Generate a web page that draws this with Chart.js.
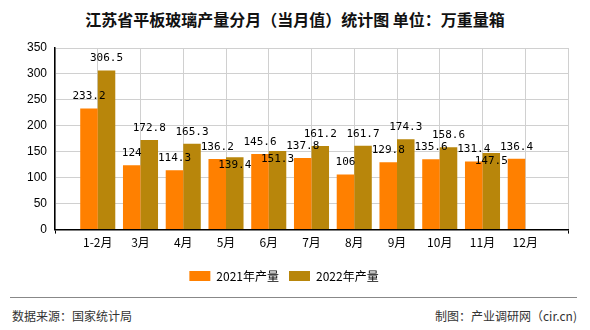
<!DOCTYPE html>
<html>
<head>
<meta charset="utf-8">
<script src="https://cdn.jsdelivr.net/npm/chart.js@4/dist/chart.umd.min.js"></script>
<style>
  html, body { margin: 0; padding: 0; background: #fff; }
  body { width: 590px; height: 330px; position: relative; overflow: hidden; font-family: "Noto Sans CJK SC", sans-serif; }
  #title { position: absolute; left: 0; top: 8px; width: 590px; text-align: center; font-size: 16px; font-weight: bold; color: #111; line-height: 22px; }
  #box { position: absolute; left: 0; top: 0; width: 590px; height: 292px; }
  #rule { position: absolute; left: 10px; top: 297px; width: 567px; height: 0; border-top: 1px solid #888; }
  .foot { position: absolute; top: 307px; font-size: 12px; color: #333; line-height: 18px; }
  #src { left: 12px; }
  #by { right: 13px; }
</style>
</head>
<body>
<div id="title">江苏省平板玻璃产量分月（当月值）统计图 单位：万重量箱</div>
<div id="box"><canvas id="c"></canvas></div>
<div id="rule"></div>
<div class="foot" id="src">数据来源：国家统计局</div>
<div class="foot" id="by">制图：产业调研网（cir.cn)</div>
<script>
// Months (empty slots at both ends keep a gap before the first and after the last group)
const months = ['1-2月', '3月', '4月', '5月', '6月', '7月', '8月', '9月', '10月', '11月', '12月'];
const output2021 = [233.2, 124, 114.3, 136.2, 145.6, 137.8, 106, 129.8, 135.6, 131.4, 136.4];
const output2022 = [306.5, 172.8, 165.3, 139.4, 151.3, 161.2, 161.7, 174.3, 158.6, 147.5, null];
const yTicks = [0, 50, 100, 150, 200, 250, 300, 350];

const labels = [''].concat(months, ['']);
const pad = arr => [null].concat(arr, [null]);

// Value labels above each bar; a 2022 label that would collide with its
// 2021 neighbour is tucked just inside the top of its bar instead.
const valueLabels = {
  id: 'valueLabels',
  afterDatasetsDraw(chart) {
    const ctx = chart.ctx;
    ctx.save();
    ctx.font = '11px "DejaVu Sans Mono", monospace';
    ctx.fillStyle = '#000';
    ctx.textAlign = 'center';
    ctx.textBaseline = 'middle';
    chart.data.datasets.forEach((ds, di) => {
      const meta = chart.getDatasetMeta(di);
      meta.data.forEach((bar, i) => {
        const v = ds.data[i];
        if (v === null || v === undefined) return;
        let dy = -12;
        if (di === 1) {
          const other = chart.data.datasets[0].data[i];
          if (other !== null && Math.abs(v - other) < 20) dy = 8;
        }
        ctx.fillText(String(v), bar.x, bar.y + dy);
      });
    });
    ctx.restore();
  }
};

const endTick = ctx => (ctx.index === 0 || ctx.index === labels.length - 1) ? '#000' : 'rgba(0,0,0,0)';

new Chart(document.getElementById('c'), {
  type: 'bar',
  data: {
    labels: labels,
    datasets: [
      { label: '2021年产量', data: pad(output2021), backgroundColor: '#FF8000', borderWidth: 0 },
      { label: '2022年产量', data: pad(output2022), backgroundColor: '#B8860B', borderWidth: 0 }
    ]
  },
  options: {
    responsive: true,
    maintainAspectRatio: false,
    animation: false,
    layout: { padding: { top: 48, right: 22, left: 0, bottom: 0 } },
    datasets: { bar: { categoryPercentage: 0.82, barPercentage: 1 } },
    plugins: {
      title: { display: false },
      tooltip: { enabled: false },
      legend: {
        position: 'bottom',
        labels: {
          boxWidth: 21, boxHeight: 10, padding: 10,
          color: '#000',
          font: { size: 12, family: '"Noto Sans CJK SC", sans-serif' }
        }
      }
    },
    scales: {
      x: {
        type: 'category',
        offset: false,
        afterFit: s => { s.height += 8; },
        grid: { color: '#d0d0d0', tickLength: 4, tickColor: endTick, offset: false },
        border: { color: '#000', width: 1.5 },
        ticks: {
          color: '#000', autoSkip: false, maxRotation: 0, padding: 2,
          font: { size: 12, family: '"Noto Sans CJK SC", sans-serif' }
        }
      },
      y: {
        min: 0, max: 350,
        afterBuildTicks: s => { s.ticks = yTicks.map(v => ({ value: v })); },
        afterFit: s => { s.width = 55; },
        grid: { color: '#d0d0d0', tickLength: 0 },
        border: { color: '#000', width: 1.5 },
        ticks: {
          color: '#000', padding: 8,
          font: { size: 12, family: '"Liberation Sans", sans-serif' }
        }
      }
    }
  },
  plugins: [valueLabels]
});
</script>
</body>
</html>
